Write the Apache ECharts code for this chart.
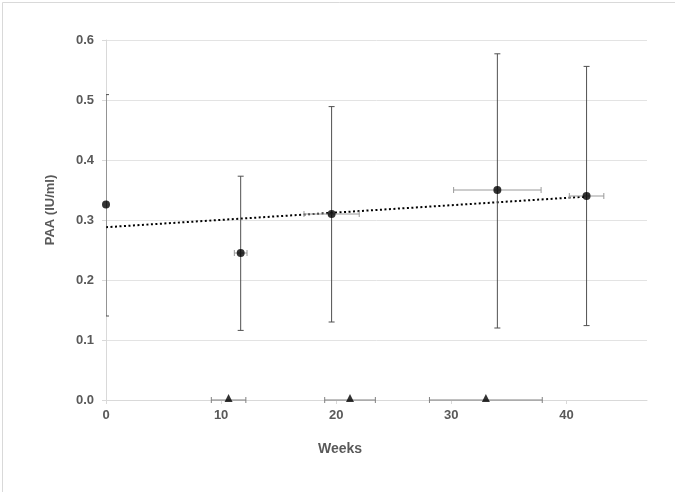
<!DOCTYPE html>
<html>
<head>
<meta charset="utf-8">
<script src="https://cdn.jsdelivr.net/npm/echarts@6/dist/echarts.min.js"></script>
<style>
html,body{margin:0;padding:0;background:#fff;}
#chart{width:675px;height:492px;}
</style>
</head>
<body>
<div id="chart"></div>
<script>
// PAA measurements (circles)
const weeks    = [0, 11.7, 19.6, 34.0, 41.75];
const paa      = [0.326, 0.245, 0.310, 0.350, 0.340];
const paaLow   = [0.140, 0.116, 0.130, 0.120, 0.124];
const paaHigh  = [0.509, 0.373, 0.489, 0.577, 0.556];
const weeksErr = [0, 0.55, 2.4, 3.8, 1.5];
// triangles on the x axis
const triWeeks = [10.65, 21.2, 33.0];
const triValue = [0, 0, 0];
const triErr   = [1.5, 2.2, 4.9];
// dotted linear trendline (end points)
const trendX = [0, 41.75];
const trendY = [0.288, 0.339];
// axis ticks
const xTicks = [0, 10, 20, 30, 40];
const yTicks = [0, 0.1, 0.2, 0.3, 0.4, 0.5, 0.6];

const chart = echarts.init(document.getElementById('chart'));

const labelFont = {fontFamily: 'Liberation Sans, Arial, sans-serif', fontWeight: 'bold', fontSize: 13, color: '#595959'};

function vErr(color) {
  return function (params, api) {
    const x = api.value(0), lo = api.value(1), hi = api.value(2);
    const t = api.coord([x, hi]), b = api.coord([x, lo]);
    const hw = 3;
    const st = {stroke: color, lineWidth: 1};
    return {type: 'group', children: [
      {type: 'line', shape: {x1: t[0], y1: t[1], x2: b[0], y2: b[1]}, style: st},
      {type: 'line', shape: {x1: t[0] - hw, y1: t[1], x2: t[0] + hw, y2: t[1]}, style: st},
      {type: 'line', shape: {x1: b[0] - hw, y1: b[1], x2: b[0] + hw, y2: b[1]}, style: st}
    ]};
  };
}
function hErr(color) {
  return function (params, api) {
    const x = api.value(0), y = api.value(1), e = api.value(2);
    if (!e) return null;
    const l = api.coord([x - e, y]), r = api.coord([x + e, y]);
    const hh = 3;
    const st = {stroke: color, lineWidth: 1};
    return {type: 'group', children: [
      {type: 'line', shape: {x1: l[0], y1: l[1], x2: r[0], y2: r[1]}, style: st},
      {type: 'line', shape: {x1: l[0], y1: l[1] - hh, x2: l[0], y2: l[1] + hh}, style: st},
      {type: 'line', shape: {x1: r[0], y1: r[1] - hh, x2: r[0], y2: r[1] + hh}, style: st}
    ]};
  };
}

const option = {
  animation: false,
  backgroundColor: '#fff',
  graphic: [
    {type: 'rect', left: 0, top: 0, shape: {x: 0.5, y: 0.5, width: 674, height: 491}, style: {fill: 'none', stroke: '#d9d9d9', lineWidth: 1}, silent: true},
    {type: 'text', left: 318, top: 442, style: {text: 'Weeks', fontFamily: 'Liberation Sans, Arial, sans-serif', fontWeight: 'bold', fontSize: 14, fill: '#595959'}}
  ],
  grid: {left: 106, right: 28, top: 40, bottom: 92, containLabel: false},
  xAxis: {
    type: 'value', min: 0, max: 47, interval: 10,
    axisLine: {show: true, onZero: false, lineStyle: {color: '#d9d9d9', width: 1}},
    axisTick: {show: true, length: 4, lineStyle: {color: '#d9d9d9'}},
    splitLine: {show: false},
    axisLabel: Object.assign({margin: 9, showMaxLabel: false, formatter: v => xTicks.indexOf(v) >= 0 ? String(v) : ''}, labelFont)
  },
  yAxis: {
    type: 'value', min: 0, max: 0.6, interval: 0.1,
    name: 'PAA (IU/ml)', nameLocation: 'middle', nameGap: 49,
    nameTextStyle: {fontFamily: 'Liberation Sans, Arial, sans-serif', fontWeight: 'bold', fontSize: 13, color: '#595959', padding: [0, 0, 0, 20]},
    axisLine: {show: true, lineStyle: {color: '#d9d9d9', width: 1}},
    axisTick: {show: true, length: 4, lineStyle: {color: '#d9d9d9'}},
    splitLine: {show: true, lineStyle: {color: '#e3e3e3', width: 1}},
    axisLabel: Object.assign({margin: 12, formatter: v => {
      const t = yTicks.find(k => Math.abs(k - v) < 1e-9);
      return t === undefined ? '' : t.toFixed(1);
    }}, labelFont)
  },
  series: [
    {
      type: 'line', data: trendX.map((x, i) => [x, trendY[i]]),
      symbol: 'none', lineStyle: {color: '#000', width: 2, type: [2, 2.5]}, z: 3, silent: true
    },
    {
      type: 'custom', renderItem: vErr('#505050'), clip: true,
      data: weeks.map((x, i) => [x, paaLow[i], paaHigh[i]]), z: 4, silent: true
    },
    {
      type: 'custom', renderItem: hErr('#9a9a9a'), clip: true,
      data: weeks.map((x, i) => [x, paa[i], weeksErr[i]]), z: 4, silent: true
    },
    {
      type: 'custom', renderItem: hErr('#808080'), clip: false,
      data: triWeeks.map((x, i) => [x, triValue[i], triErr[i]]), z: 4, silent: true
    },
    {
      type: 'scatter', data: weeks.map((x, i) => [x, paa[i]]),
      symbol: 'circle', symbolSize: 8, itemStyle: {color: '#000'}, z: 6, silent: true
    },
    {
      type: 'scatter', data: triWeeks.map((x, i) => [x, triValue[i]]),
      symbol: 'triangle', symbolSize: [8, 8], symbolOffset: [0, -2], itemStyle: {color: '#000'}, z: 6, silent: true
    }
  ]
};
chart.setOption(option);
</script>
</body>
</html>
